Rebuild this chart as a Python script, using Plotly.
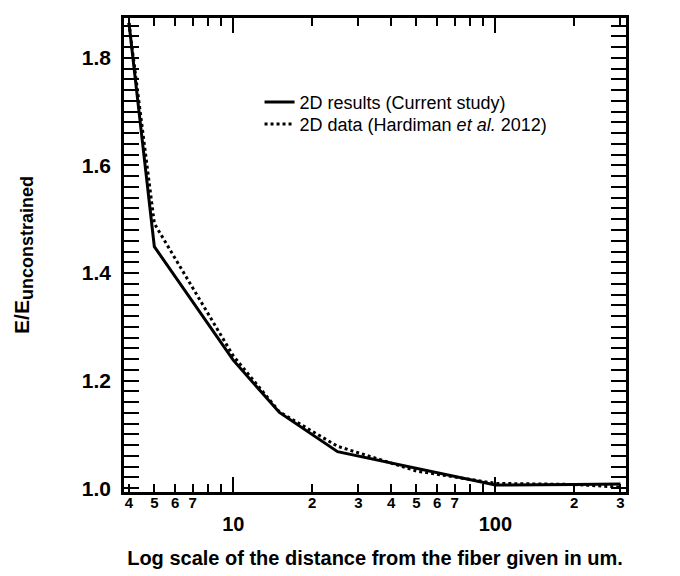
import math
import plotly.graph_objects as go

# Data
x_current = [4, 5, 10, 15, 25, 50, 100, 200, 300]
y_current = [1.865, 1.449, 1.238, 1.141, 1.068, 1.037, 1.006, 1.007, 1.008]

x_hardiman = [4, 5, 10, 15, 25, 50, 100, 200, 300]
y_hardiman = [1.865, 1.492, 1.246, 1.142, 1.078, 1.032, 1.009, 1.007, 1.002]

major_ticks = [10, 100]
major_labels = ["10", "100"]
minor_ticks = [4, 5, 6, 7, 8, 9, 20, 30, 40, 50, 60, 70, 80, 90, 200, 300]
small_label_vals = [4, 5, 6, 7, 20, 30, 40, 50, 60, 70, 200, 300]
small_label_text = ["4", "5", "6", "7", "2", "3", "4", "5", "6", "7", "2", "3"]
y_ticks = [1.0, 1.2, 1.4, 1.6, 1.8]

FONT = "Liberation Sans, Arial, sans-serif"
xrange_ = [math.log10(3.83), math.log10(315)]
yrange_ = [0.993, 1.874]

fig = go.Figure()
fig.add_trace(go.Scatter(x=x_current, y=y_current, mode="lines",
                         name="2D results (Current study)", legend="legend",
                         line=dict(color="black", width=3)))
fig.add_trace(go.Scatter(x=x_hardiman, y=y_hardiman, mode="lines",
                         name="2D data (Hardiman <i>et al.</i> 2012)", legend="legend2",
                         line=dict(color="black", width=3, dash="3px,3px")))
# dummy trace to carry the small-label axis
fig.add_trace(go.Scatter(x=[10], y=[1.4], xaxis="x2", mode="lines",
                         showlegend=False, hoverinfo="skip",
                         line=dict(color="rgba(0,0,0,0)")))

legend_style = dict(xanchor="left", yanchor="top",
                    font=dict(size=18, family=FONT), bgcolor="rgba(0,0,0,0)",
                    itemwidth=30, tracegroupgap=0)

fig.update_layout(
    width=672, height=568,
    margin=dict(l=116, r=54, t=7, b=84),
    paper_bgcolor="white", plot_bgcolor="white",
    font=dict(family=FONT, color="black"),
    showlegend=True,
    legend=dict(x=0.27, y=0.861, **legend_style),
    legend2=dict(x=0.27, y=0.8147, **legend_style),
    xaxis=dict(
        type="log", range=xrange_,
        tickmode="array", tickvals=major_ticks, ticktext=major_labels,
        ticks="inside", ticklen=15, tickwidth=2, tickcolor="black",
        tickfont=dict(size=20, family=FONT, weight="bold"),
        ticklabelstandoff=12,
        minor=dict(tickmode="array", tickvals=minor_ticks, ticks="inside",
                   ticklen=8, tickwidth=2, tickcolor="black", showgrid=False),
        showline=True, linewidth=2.5, linecolor="black", mirror="allticks",
        showgrid=False, zeroline=False,
        title=dict(text="<b>Log scale of the distance from the fiber given in um.</b>",
                   font=dict(size=20, family=FONT), standoff=18),
    ),
    xaxis2=dict(
        type="log", range=xrange_, overlaying="x", anchor="y", side="bottom",
        tickmode="array", tickvals=small_label_vals, ticktext=small_label_text,
        ticks="", showline=False, showgrid=False, zeroline=False,
        tickfont=dict(size=15, family=FONT, weight="bold"),
    ),
    yaxis=dict(
        range=yrange_, tickmode="array", tickvals=y_ticks,
        tickformat=".1f",
        ticks="inside", ticklen=15, tickwidth=2, tickcolor="black",
        tickfont=dict(size=21, family=FONT, weight="bold"),
        ticklabelstandoff=6,
        minor=dict(dtick=0.02, tick0=1.0, ticks="inside", ticklen=8,
                   tickwidth=2, tickcolor="black", showgrid=False),
        showline=True, linewidth=2.5, linecolor="black", mirror="allticks",
        showgrid=False, zeroline=False,
        title=dict(text="<b>E/E<sub><span style='font-size:18px'>unconstrained</span></sub></b>",
                   font=dict(size=21, family=FONT), standoff=47),
    ),
)

fig.write_html("out.html")
